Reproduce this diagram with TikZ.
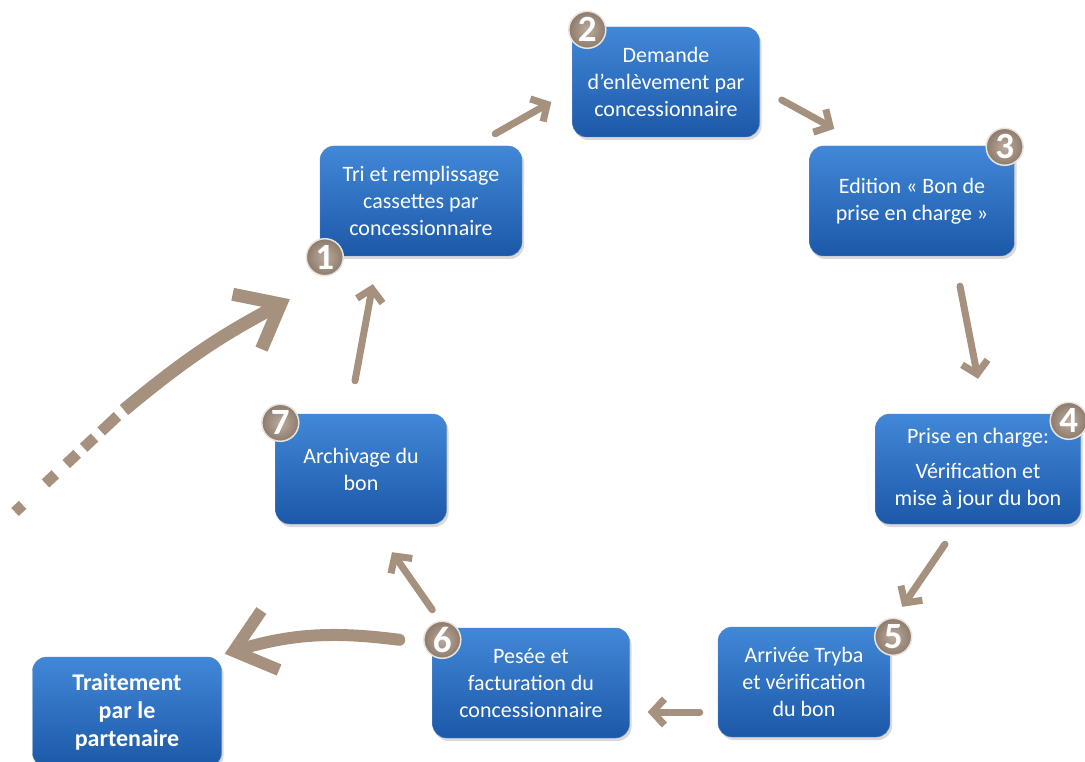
\documentclass[tikz,border=0pt]{standalone}
\usepackage{fontspec}
\setmainfont{Carlito}
\usepackage{tikz}
\usetikzlibrary{shadows}
\usetikzlibrary{arrows.meta,calc}
\definecolor{boxtop}{RGB}{66,136,216}
\definecolor{boxbot}{RGB}{28,88,168}
\definecolor{taupe}{RGB}{166,144,126}
\tikzstyle{etape}=[rounded corners=14pt,top color=boxtop,bottom color=boxbot,draw=boxbot!70,text=white,align=center,font=\fontsize{22}{27}\selectfont,minimum height=110pt,inner sep=3pt,drop shadow={opacity=0.3,shadow xshift=2pt,shadow yshift=-3pt}]
\tikzstyle{badge}=[circle,inner color=taupe!75!white,outer color=taupe!85!black,draw=white!75!taupe,line width=1.5pt,minimum size=37pt,inner sep=0pt,text=white,font=\bfseries\fontsize{37}{37}\selectfont]
\tikzstyle{flow} = [draw,taupe,line width=7pt,line cap=round,-{Straight Barb[length=12pt,width=26pt]}]
\tikzstyle{bigflow} = [draw,taupe,line width=13pt,line cap=round,-{Straight Barb[length=38pt,width=62pt]}]

\begin{document}
\begin{tikzpicture}[x=1pt,y=-1pt]
    \useasboundingbox (0,0) rectangle (1085,762);
    % First we draw the steps of the cycle
    \foreach \pos/ \name/\w/\txt in {{(421,201)/b1/202/{Tri et remplissage\\cassettes par\\concessionnaire}},
        {(666,82)/b2/187/{Demande\\d’enlèvement par\\concessionnaire}},
        {(912,201)/b3/205/{Edition «~Bon de\\prise en charge~»}},
        {(978,469)/b4/205/{Prise en charge:\\[8pt]Vérification et\\mise à jour du bon}},
        {(804,682)/b5/172/{Arrivée Tryba\\et vérification\\du bon}},
        {(531,683)/b6/197/{Pesée et\\facturation du\\concessionnaire}},
        {(361,469)/b7/171/{Archivage du\\bon}}}
        \node[etape,minimum width=\w pt] (\name) at \pos {\txt};

    \node[etape,minimum width=189pt,font=\bfseries\fontsize{24}{28}\selectfont] (bt) at (127,712) {Traitement\\par le\\partenaire};

    % then the numbers on the corners
    \foreach \where/ \name/\num in {{([shift={(5,1)}]b1.south west)/n1/1},{([shift={(15,3)}]b2.north west)/n2/2},
        {([shift={(-10,1)}]b3.north east)/n3/3},{([shift={(-12,7)}]b4.north east)/n4/4},
        {([shift={(3,10)}]b5.north east)/n5/5},{([shift={(10,12)}]b6.north west)/n6/6},
        {([shift={(5,9)}]b7.north west)/n7/7}}
        \node[badge] (\name) at \where {\num};

    % Connect the steps with arrows
    \path[flow] ([shift={(-27,-12)}]b1.north east) -- ([shift={(-21,20)}]b2.west);
    \path[flow] ([shift={(22,18)}]b2.east) -- ([shift={(25,-17)}]b3.north west);
    \path[flow] ([shift={(48,30)}]b3.south) -- ([shift={(0,-35)}]b4.north);
    \path[flow] ([shift={(-33,20)}]b4.south) -- ([shift={(12,-20)}]b5.north east);
    \path[flow] ([shift={(-18,30)}]b5.west) -- ([shift={(18,29)}]b6.east);
    \path[flow] ([shift={(0,-18)}]b6.north west) -- ([shift={(31,28)}]b7.south);
    \path[flow] ([shift={(-6,-33)}]b7.north) -- ([shift={(53,28)}]b1.south west);

    % the way in and the way out
    \coordinate (tail) at (15,512);
    \coordinate (knee) at (124,410);
    \foreach \a/ \b in {0.0/0.07, 0.28/0.37, 0.47/0.57, 0.63/0.73, 0.79/0.94}
        \draw[taupe,line width=11pt] ($(tail)!\a!(knee)$) -- ($(tail)!\b!(knee)$);
    \path[bigflow,line cap=butt] (knee) to[bend left=6] ([shift={(-30,43)}]b1.south west);
    \path[bigflow,line width=12pt] ([shift={(-33,12)}]b6.north west) to[bend right=12] ([shift={(3,-3)}]bt.north east);
%   \draw[dashed, ->] (0,0) -- (1,1);
\end{tikzpicture}
\end{document}
